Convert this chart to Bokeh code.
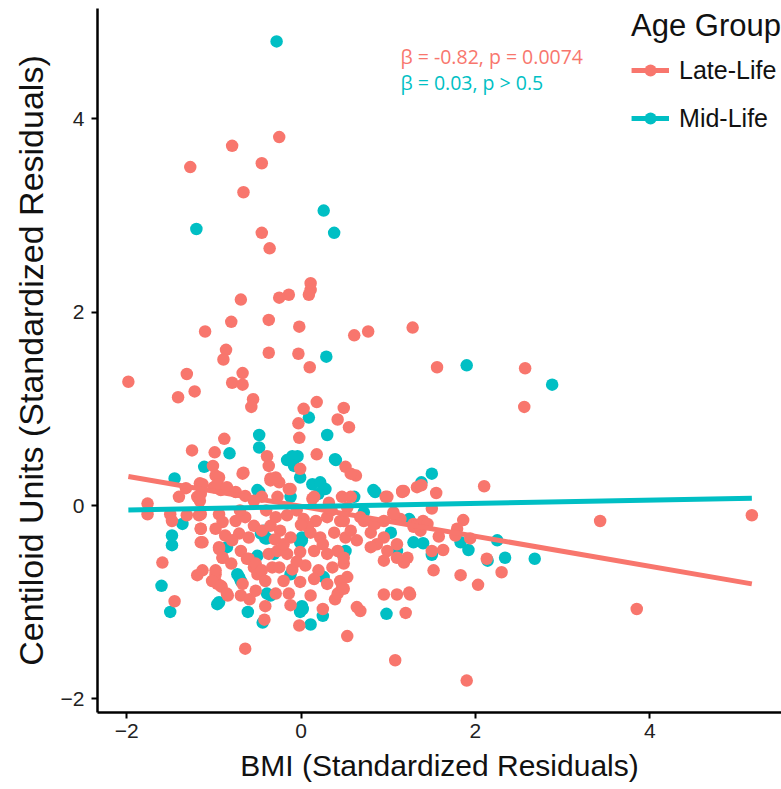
from bokeh.plotting import figure
from bokeh.models import Range1d, Legend, LegendItem, FixedTicker
from bokeh.embed import file_html
from bokeh.resources import INLINE
from bokeh.core.properties import value

# ---- data ----
late_points = [
    (-0.25, 3.81), (-0.79, 3.72), (-1.27, 3.50), (-0.45, 3.54), (-0.66, 3.24), (-0.45, 2.82), (-0.36, 2.66),
    (0.11, 2.30), (0.11, 2.23), (-0.14, 2.18), (-0.25, 2.15), (-0.69, 2.13), (0.09, 2.18),
    (-0.37, 1.92), (-0.80, 1.90), (-1.10, 1.80), (-0.02, 1.85), (0.61, 1.76), (0.77, 1.80), (1.28, 1.84),
    (-0.86, 1.61), (-0.89, 1.51), (-0.37, 1.58), (-0.03, 1.57), (0.10, 1.43), (1.56, 1.43), (2.57, 1.42), (2.56, 1.02),
    (-1.98, 1.28), (-1.31, 1.36), (-1.41, 1.12), (-1.22, 1.18), (-0.67, 1.37), (-0.79, 1.27), (-0.67, 1.25),
    (-0.55, 1.10), (-0.57, 1.02), (0.18, 1.07), (0.03, 1.00), (-0.03, 0.85), (0.49, 1.01), (0.42, 0.89), (0.55, 0.81),
    (-0.02, 0.70), (-0.88, 0.69), (-1.25, 0.57), (-0.99, 0.55), (-0.39, 0.51), (0.18, 0.53), (-0.37, 0.41),
    (-0.01, 0.38), (0.51, 0.40), (0.63, 0.31), (-0.35, 0.28), (-0.25, 0.24), (-0.12, 0.17), (0.13, 0.07), (0.32, 0.03),
    (0.97, 0.09), (1.16, 0.15), (1.33, 0.19), (0.53, -0.02), (0.72, -0.16), (0.85, -0.19), (0.95, -0.16), (1.06, -0.07),
    (1.14, -0.14), (1.29, -0.19), (0.80, -0.28), (0.95, -0.33), (0.87, -0.40), (0.99, -0.47), (1.10, -0.40), (1.22, -0.54),
    (1.38, 0.21), (1.18, 0.15), (1.55, 0.13), (2.10, 0.20), (1.50, -0.03), (3.43, -0.16), (5.17, -0.10), (1.40, -0.16),
    (1.29, -0.22), (1.45, -0.19), (1.37, -0.26), (1.86, -0.15), (1.79, -0.24), (1.77, -0.31), (1.58, -0.32), (1.94, -0.34),
    (1.50, -0.47), (1.63, -0.46), (2.13, -0.55), (1.18, -0.59), (1.52, -0.67), (1.83, -0.72), (2.30, -0.69), (2.03, -0.82),
    (1.24, -0.90),
    (-1.45, -0.99), (-1.19, -0.72), (-0.99, -0.77), (-0.91, -0.84), (-0.84, -0.93), (-0.69, -0.93), (-0.59, -0.97),
    (-0.64, -1.48), (-0.41, -1.04), (-0.42, -1.18), (-0.29, -0.91), (-0.12, -1.03), (-0.02, -1.24), (0.25, -1.07),
    (0.39, -0.97), (0.53, -1.35), (0.68, -1.09), (0.95, -0.92), (1.10, -0.92), (1.25, -0.92), (1.20, -1.11),
    (1.08, -1.60), (1.90, -1.81), (3.85, -1.07), (0.47, -0.85),
    (-1.01, 0.41), (-0.98, 0.31), (-0.94, 0.29), (-0.66, 0.34), (-1.16, 0.23), (-1.32, 0.18), (-1.40, 0.09),
    (-1.19, 0.09), (-1.16, 0.05), (-1.76, 0.02), (-1.76, -0.09), (-1.50, -0.09), (-1.48, -0.16), (-1.31, -0.10),
    (-1.17, -0.10), (-1.15, -0.24), (-1.15, -0.38), (-1.59, -0.59), (-0.98, -0.71), (-0.96, -0.81), (-0.94, -0.43),
    (-0.90, -0.54), (-1.00, 0.19), (-0.92, 0.16), (-0.85, 0.17), (-0.69, -0.47), (-0.62, -0.55), (-0.54, -0.64),
    (-0.50, -0.71),
    (-1.13, 0.22), (-1.15, 0.12), (-0.96, 0.22), (-0.67, 0.33), (-0.85, 0.19), (-0.75, 0.14), (-0.64, 0.10),
    (-0.54, 0.05), (-0.45, 0.09), (-0.35, 0.26), (-1.15, -0.09), (-1.15, -0.24), (-1.13, -0.38), (-0.94, -0.09),
    (-0.90, -0.17), (-0.98, -0.24), (-0.87, -0.31), (-0.75, -0.16), (-0.64, -0.12), (-0.54, -0.21), (-0.71, -0.29),
    (-0.60, -0.33), (-0.79, -0.36), (-0.45, -0.26), (-0.35, -0.21), (-0.94, -0.45), (-0.90, -0.54), (-0.98, -0.67),
    (-1.02, -0.78), (-0.92, -0.83), (-0.85, -0.91), (-0.60, -0.55), (-0.52, -0.60), (-0.45, -0.67), (-0.37, -0.50),
    (-0.33, -0.64), (-0.67, -0.81), (-0.52, -0.88), (-0.41, -0.78), (-1.13, -0.67),
    (-0.29, 0.29), (-0.14, 0.17), (-0.27, 0.09), (0.15, 0.09), (0.47, 0.09), (-0.29, -0.12), (-0.16, -0.10),
    (0.03, -0.14), (0.17, -0.16), (0.30, -0.12), (0.45, -0.16), (-0.24, -0.26), (-0.12, -0.33), (0.11, -0.28),
    (0.22, -0.33), (0.38, -0.28), (0.51, -0.33), (-0.27, -0.47), (-0.16, -0.50), (-0.01, -0.48), (0.15, -0.47),
    (0.30, -0.50), (0.42, -0.47), (-0.25, -0.64), (-0.10, -0.66), (0.05, -0.62), (0.20, -0.67), (0.36, -0.64),
    (0.49, -0.60), (-0.20, -0.78), (-0.01, -0.79), (0.15, -0.76), (0.30, -0.81), (0.45, -0.78), (-0.14, -0.91),
    (0.11, -0.93), (0.42, -0.91),
    (0.57, 0.33), (0.99, 0.09), (1.16, 0.14), (0.57, 0.09), (0.49, -0.16), (0.57, -0.26), (0.68, -0.12),
    (0.83, -0.19), (1.06, -0.09), (0.64, -0.36), (0.80, -0.43), (0.95, -0.57), (1.10, -0.54), (0.49, -0.54),
    (0.53, -0.74), (0.49, -0.86), (0.64, -1.05),
    (-0.05, -0.05), (0.08, -0.22), (-0.20, -0.40), (0.25, -0.40), (-0.05, -0.58), (0.35, -0.05), (-0.40, -0.05),
    (-0.70, -0.05), (-0.80, -0.60), (-0.30, -0.35), (0.00, -0.20),
]

mid_points = [
    (-0.28, 4.80), (-1.20, 2.86), (0.26, 3.05), (0.38, 2.82), (0.29, 1.54), (1.90, 1.45), (2.88, 1.25),
    (0.09, 0.91), (0.30, 0.73), (-0.48, 0.73), (-0.48, 0.60), (-0.82, 0.54), (-0.10, 0.51), (-0.04, 0.51),
    (0.39, 0.48), (1.50, 0.33), (1.38, 0.24), (1.24, -0.15), (1.40, -0.39), (1.83, -0.38), (2.25, -0.36),
    (1.92, -0.46), (1.50, -0.51), (2.34, -0.54), (2.68, -0.55), (2.14, -0.57),
    (-1.60, -0.83), (-1.50, -1.10), (-0.96, -1.02), (-0.61, -1.10), (-0.44, -1.21), (-0.35, -0.93),
    (0.02, -1.07), (-0.01, -1.10), (0.11, -1.23), (0.25, -1.14), (0.98, -1.12),
    (-1.11, 0.40), (-1.45, 0.28), (-1.36, -0.19), (-1.48, -0.31), (-1.48, -0.41), (-0.85, -0.43), (-0.50, 0.16),
    (-0.43, -0.26), (-0.39, -0.34), (-0.73, -0.71), (-0.69, -0.78),
    (-0.16, 0.47), (-0.06, 0.50), (-0.08, 0.41), (0.40, 0.47), (0.13, 0.22), (0.22, 0.24), (0.28, 0.17),
    (0.20, 0.12), (-0.48, 0.14), (0.83, 0.16), (0.61, 0.09), (0.72, -0.07), (1.03, -0.28), (1.29, -0.38),
    (1.10, -0.47), (-0.46, -0.29), (-0.41, -0.34), (0.01, -0.33), (-0.01, -0.38), (0.45, -0.48), (-0.12, -0.71),
    (-0.50, -0.52), (-0.71, -0.74), (-0.39, -0.91), (-0.94, -1.00), (-0.12, 0.09), (-0.01, 0.29), (0.01, -0.36),
    (-0.31, -0.50), (0.01, -1.04), (0.26, -0.74), (0.51, -0.47), (0.85, 0.14), (1.24, -0.14),
]

# fitted regression lines (end points)
fit_x = [-1.98, 5.17]
late_fit_y = [0.30, -0.81]
mid_fit_y = [-0.045, 0.076]

group_names = ["Late-Life", "Mid-Life"]
group_colors = ["#F8766D", "#00BFC4"]
annotations = ["\u03b2 = -0.82, p = 0.0074", "\u03b2 = 0.03, p > 0.5"]
x_ticks = [-2, 0, 2, 4]
y_ticks = [-2, 0, 2, 4]

late_x = [p[0] for p in late_points]
late_y = [p[1] for p in late_points]
mid_x = [p[0] for p in mid_points]
mid_y = [p[1] for p in mid_points]

p = figure(width=781, height=789, output_backend="svg", toolbar_location=None,
           x_range=Range1d(-2.334, 5.51), y_range=Range1d(-2.14, 5.14),
           min_border_left=97, min_border_right=0, min_border_top=8, min_border_bottom=77)
p.outline_line_color = None
p.xgrid.visible = False
p.ygrid.visible = False
p.background_fill_color = "white"
p.border_fill_color = "white"

FONT = "Liberation Sans"
for ax, ticks in ((p.xaxis, x_ticks), (p.yaxis, y_ticks)):
    ax.ticker = FixedTicker(ticks=ticks)
    ax.minor_tick_line_color = None
    ax.axis_line_width = 2.5
    ax.axis_line_color = "black"
    ax.major_tick_line_width = 2
    ax.major_tick_line_color = "black"
    ax.major_tick_out = 6
    ax.major_tick_in = 0
    ax.major_label_text_font = FONT
    ax.major_label_text_font_size = "21px"
    ax.major_label_text_color = "#222222"
    ax.axis_label_text_font = FONT
    ax.axis_label_text_font_style = "normal"
    ax.axis_label_text_color = "#111111"
p.xaxis.axis_label = "BMI (Standardized Residuals)"
p.yaxis.axis_label = "Centiloid Units (Standardized Residuals)"
p.xaxis.axis_label_text_font_size = "30px"
p.yaxis.axis_label_text_font_size = "34px"
p.xaxis.major_label_standoff = 5
p.yaxis.major_label_standoff = 7
p.xaxis.axis_label_standoff = 8
p.yaxis.axis_label_standoff = 8

mid_pts = p.scatter(mid_x, mid_y, size=12.5, color=group_colors[1], line_color=None)
late_pts = p.scatter(late_x, late_y, size=12.5, color=group_colors[0], line_color=None)
late_line = p.line(fit_x, late_fit_y, line_width=5, color=group_colors[0])
mid_line = p.line(fit_x, mid_fit_y, line_width=5, color=group_colors[1])

ann_x = [1.14, 1.14]
ann_y = [4.64, 4.37]
p.text(x=ann_x, y=ann_y, text=annotations, text_color=group_colors, text_font=value("Open Sans"),
       text_font_size="19.5px", text_baseline="middle", text_align="left")

legend = Legend(items=[LegendItem(label=group_names[0], renderers=[late_line, late_pts]),
                       LegendItem(label=group_names[1], renderers=[mid_line, mid_pts])],
                location="top_right")
legend.title = "Age Group"
legend.title_text_font = FONT
legend.title_text_font_size = "31px"
legend.title_text_font_style = "normal"
legend.title_text_color = "#111111"
legend.title_standoff = 11
legend.label_text_font = FONT
legend.label_text_font_size = "25px"
legend.label_text_color = "#111111"
legend.label_standoff = 10
legend.glyph_width = 38
legend.glyph_height = 30
legend.label_height = 30
legend.spacing = 18
legend.padding = 2
legend.margin = 0
legend.border_line_color = None
legend.background_fill_alpha = 0
p.add_layout(legend)

open("out.html", "w").write(file_html(p, INLINE))
